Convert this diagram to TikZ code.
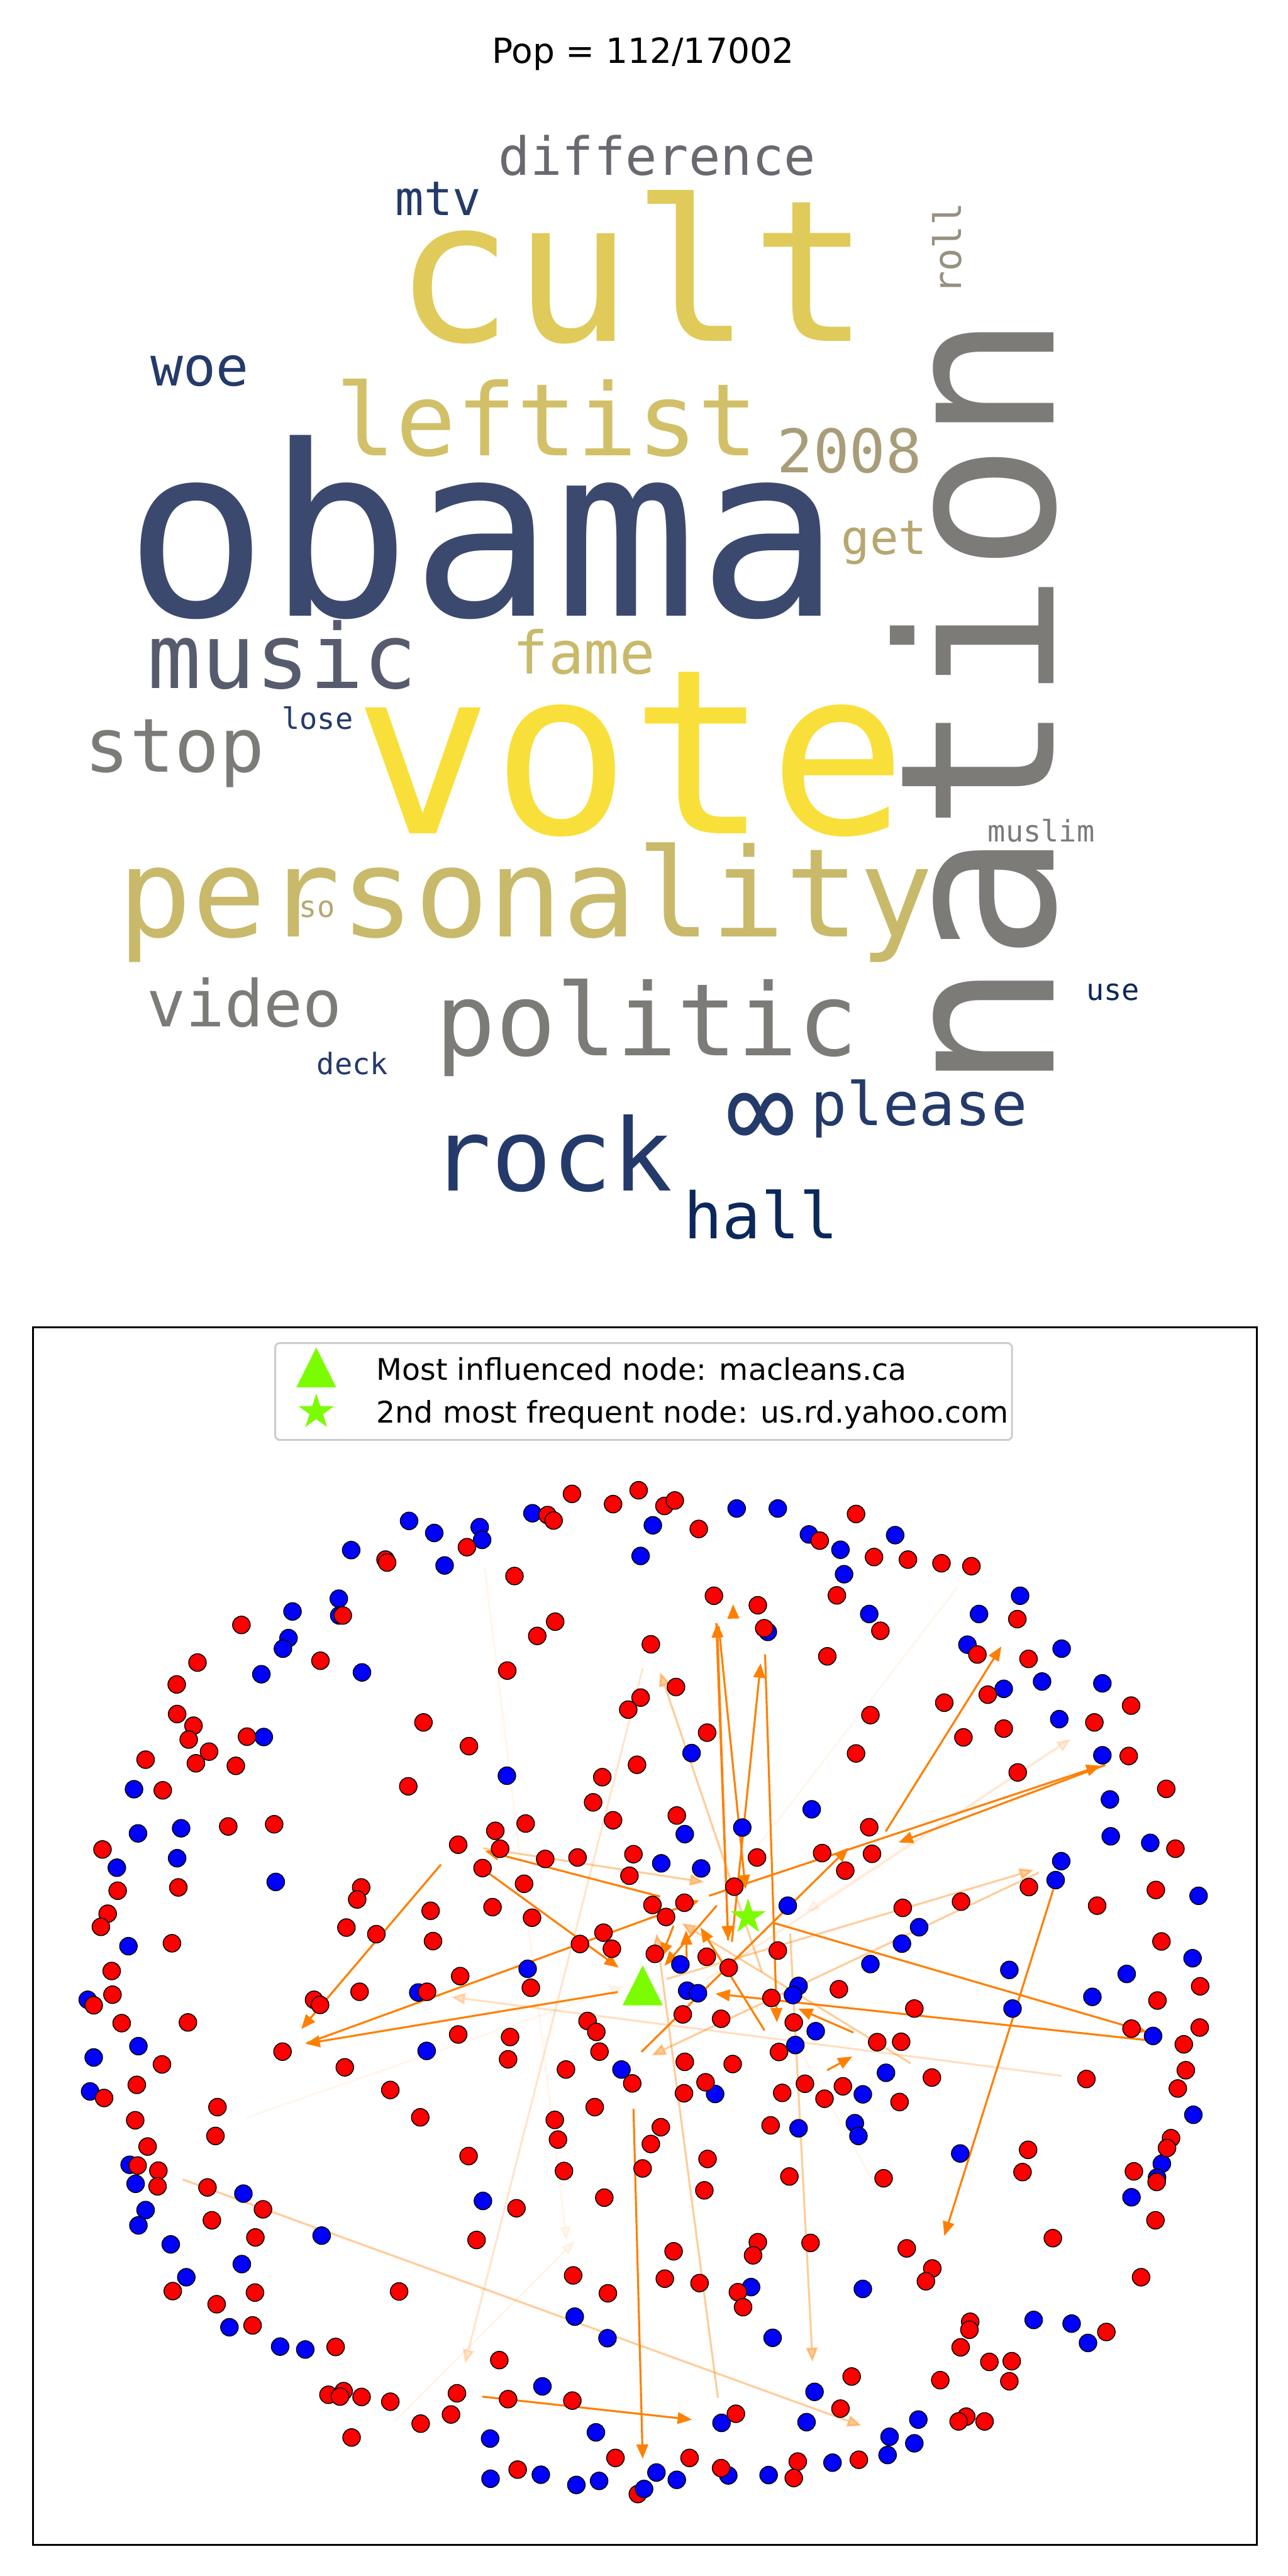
\documentclass[tikz,border=0pt]{standalone}
\usepackage{fontspec}
\setmainfont{DejaVu Sans}
\newfontfamily\cloudfont{DejaVu Sans Mono}
\usetikzlibrary{arrows.meta,shapes.geometric}
\tikzset{every picture/.style={line width=0.75pt}}
\newcommand{\wordsize}[1]{\fontsize{#1}{#1}\selectfont}

% 颜色
\definecolor{edgeorange}{RGB}{255,127,0}
\definecolor{nodegreen}{RGB}{124,252,0}
\definecolor{legendgray}{RGB}{204,204,204}
\definecolor{cvyellow}{RGB}{249,223,58}
\definecolor{cvgold}{RGB}{224,202,90}
\definecolor{cvkhaki}{RGB}{210,192,105}
\definecolor{cvsand}{RGB}{201,185,106}
\definecolor{cvolive}{RGB}{168,157,120}
\definecolor{cvtan}{RGB}{182,167,112}
\definecolor{cvtaupe}{RGB}{150,145,128}
\definecolor{cvgray}{RGB}{124,123,120}
\definecolor{cvslate}{RGB}{104,105,113}
\definecolor{cvsteel}{RGB}{87,91,110}
\definecolor{cvnavy}{RGB}{59,73,111}
\definecolor{cvblue}{RGB}{36,58,106}
\definecolor{cvink}{RGB}{12,40,90}

\tikzset{
  rdot/.style={circle, draw=black, line width=0.4pt, fill=red, minimum size=7.6pt, inner sep=0pt},
  bdot/.style={rdot, fill=blue},
  link/.style={draw=edgeorange, line width=0.85pt, -{Triangle[length=6.2pt,width=5pt]}},
  linkhalf/.style={link, opacity=0.4},
  linkfaint/.style={link, opacity=0.07},
  cloudword/.style={inner sep=0pt, anchor=base},
  hubstar/.style={star, star points=5, star point ratio=2.618, fill=nodegreen, minimum size=16pt, inner sep=0pt},
}

\begin{document}
\begin{tikzpicture}[x=0.025cm, y=-0.025cm]
    \useasboundingbox (0,0) rectangle (784,1568);

    % 标题
    \node[cloudword, font=\wordsize{15}] (title) at (391.3,38.5) {Pop = 112/17002};

    % 词云
    \node[cloudword, text=cvslate, font=\cloudfont\wordsize{22.8}] (w-difference) at (400,106.5) {difference};
    \node[cloudword, text=cvblue, font=\cloudfont\wordsize{20.6}] (w-mtv) at (266.8,131) {mtv};
    \node[cloudword, text=cvgold, font=\cloudfont\wordsize{85.4}] (w-cult) at (385,207.5) {cult};
    \node[cloudword, text=cvtaupe, font=\cloudfont\wordsize{16.4}, rotate=90] (w-roll) at (585,151.3) {roll};
    \node[cloudword, text=cvblue, font=\cloudfont\wordsize{23.5}] (w-woe) at (121.5,235) {woe};
    \node[cloudword, text=cvkhaki, font=\cloudfont\wordsize{43.4}] (w-leftist) at (333,277.5) {leftist};
    \node[cloudword, text=cvolive, font=\cloudfont\wordsize{26}] (w-2008) at (517,287.5) {2008};
    \node[cloudword, text=cvgray, font=\cloudfont\wordsize{93.2}, rotate=90] (w-nation) at (641.5,427.5) {nation};
    \node[cloudword, text=cvtan, font=\cloudfont\wordsize{20.6}] (w-get) at (538.3,337.5) {get};
    \node[cloudword, text=cvnavy, font=\cloudfont\wordsize{103}] (w-obama) at (293.8,375) {obama};
    \node[cloudword, text=cvsteel, font=\cloudfont\wordsize{38.8}] (w-music) at (172,419) {music};
    \node[cloudword, text=cvsand, font=\cloudfont\wordsize{25.5}] (w-fame) at (355.5,410) {fame};
    \node[cloudword, text=cvgray, font=\cloudfont\wordsize{32.3}] (w-stop) at (106.3,470) {stop};
    \node[cloudword, text=cvblue, font=\cloudfont\wordsize{12.8}] (w-lose) at (193.3,444) {lose};
    \node[cloudword, text=cvyellow, font=\cloudfont\wordsize{99.6}] (w-vote) at (383.8,507.5) {vote};
    \node[cloudword, text=cvgray, font=\cloudfont\wordsize{12.8}] (w-muslim) at (633.8,512.5) {muslim};
    \node[cloudword, text=cvsand, font=\cloudfont\wordsize{53.3}] (w-personality) at (320,570) {personality};
    \node[cloudword, text=cvtan, font=\cloudfont\wordsize{12.8}] (w-so) at (193,558.5) {so};
    \node[cloudword, text=cvgray, font=\cloudfont\wordsize{28}] (w-video) at (148.8,625) {video};
    \node[cloudword, text=cvgray, font=\cloudfont\wordsize{43.4}] (w-politic) at (393.8,642.5) {politic};
    \node[cloudword, text=cvink, font=\cloudfont\wordsize{12.8}] (w-use) at (677.5,609) {use};
    \node[cloudword, text=cvblue, font=\cloudfont\wordsize{12.8}] (w-deck) at (214.5,654) {deck};
    \node[cloudword, text=cvblue, font=\cloudfont\wordsize{25.9}] (w-please) at (559.5,685) {please};
    \node[inner sep=0pt, text=cvblue, font=\cloudfont\wordsize{50}] (w-inf) at (463.3,682.5) {∞};
    \node[cloudword, text=cvblue, font=\cloudfont\wordsize{43.4}] (w-rock) at (335.8,725) {rock};
    \node[cloudword, text=cvink, font=\cloudfont\wordsize{27.7}] (w-hall) at (463.3,754) {hall};

    % 网络图边框
    \draw[line width=0.8pt] (20,808) rectangle (765,1549);

    % 图例
    \draw[legendgray, line width=0.8pt, rounded corners=2pt, fill=white] (167.5,817.5) rectangle (616,876.5);
    \coordinate (legtri) at (192.5,832.3);
    \fill[nodegreen] (legtri) ++(0,-12.1) -- ++(-12.1,24.2) -- ++(24.2,0) -- cycle;
    \node[hubstar] (legstar) at (192.5,859.5) {};
    \node[anchor=base west, font=\wordsize{12.9}] (leg1) at (224,840) {Most influenced node: macleans.ca};
    \node[anchor=base west, font=\wordsize{12.9}] (leg2) at (224,866) {2nd most frequent node: us.rd.yahoo.com};

    % 淡色的边
    \draw[linkfaint] (582.5,966.5) -- (440,1151.5);
    \draw[linkfaint] (295,954) -- (345,1364);
    \draw[linkfaint] (150,1289) -- (380,1209);
    \draw[linkfaint] (650,1059) -- (490,1164);
    \draw[linkfaint] (535,1334) -- (465,1209);
    \draw[linkfaint] (240,1474) -- (350,1364);
    \draw[link, opacity=0.15] (430,1205) -- (652,1058.5);
    \draw[link, opacity=0.2] (391.2,1015.5) -- (283,1438.8);
    \draw[link, opacity=0.25] (646,1263.5) -- (274.5,1215.5);

    % 半透明的边
    \draw[linkhalf] (111.2,1326.6) -- (524.5,1476.6);
    \draw[linkhalf] (481,1177) -- (494.6,1437.7);
    \draw[linkhalf] (437,1459.5) -- (399.6,1176.8);
    \draw[linkhalf] (463.8,1200.4) -- (401.8,1017.8);
    \draw[linkhalf] (294,1125) -- (428.6,1145.6);
    \draw[linkhalf] (405.7,1204.6) -- (629.2,1138.2);
    \draw[linkhalf] (632.3,1139.8) -- (396.6,1251.1);
    \draw[linkhalf] (554.4,1256) -- (414.9,1170.6);

    % 主要的边
    \draw[link] (268.4,1134.9) -- (183.4,1235);
    \draw[link] (401.8,1154.4) -- (295.2,1126.6);
    \draw[link] (294,1137.7) -- (376.6,1197.7);
    \draw[link] (376,1212.5) -- (186,1244);
    \draw[link] (186.6,1243.7) -- (425.6,1156.7);
    \draw[link] (431.7,1153.9) -- (670,1074.8);
    \draw[link] (672.8,1074.3) -- (547,1121.5);
    \draw[link] (539.1,1114.8) -- (609.5,1002.2);
    \draw[link] (641.1,1150.2) -- (574.8,1361);
    \draw[link] (471.4,1170.6) -- (698,1236.8);
    \draw[link] (698,1241.8) -- (435.5,1213.6);
    \draw[link] (436,988) -- (443.2,1181);
    \draw[link] (443.2,1181) -- (436.5,988);
    \draw[link] (437.5,990) -- (453.8,1150);
    \draw[link] (465.7,1007) -- (472.9,1231);
    \draw[link] (445.5,1182) -- (463,1012.5);
    \draw[link] (446.4,984.5) -- (446.2,976.5);
    \draw[link] (410,1172.2) -- (402.5,1191.3);
    \draw[link] (436.3,1159.9) -- (404.5,1196.5);
    \draw[link] (418,1192) -- (417.6,1175);
    \draw[link] (465.3,1235.8) -- (426.4,1173.3);
    \draw[link] (519.5,1237.2) -- (485.9,1222.6);
    \draw[link] (503.5,1260.1) -- (518.8,1251.8);
    \draw[link] (390.4,1249) -- (516.5,1124.7);
    \draw[link] (293.5,1458.8) -- (421.2,1472.8);
    \draw[link] (385.6,1283.7) -- (391.2,1496.6);

    % 节点：左上
    \begin{scope}[shift={(21.8,871.1)}, xscale=0.243, yscale=0.2222]
        \foreach \x/\y [count=\i] in {1244/225,1515/342,935/246,998/279,1112/263,1118/298,790/326,1024/368,759/459,760/505,643/494,633/567,619/596,565/666,817/661,571/838,1180/944,246/981,256/1102,364/1088,203/1196,354/1170,601/1235,232/1411,1232/1473}
            \node[bdot] (b1-\i) at (\x,\y) {};
        \foreach \x/\y [count=\i] in {1343/172,1446/200,1510/162,1282/230,1297/245,1080/318,876/352,880/360,1199/397,769/505,515/531,713/629,1301/522,1256/561,1181/656,405/634,353/694,354/775,395/807,383/845,529/837,434/878,401/910,275/900,501/917,971/798,1085/863,933/973,1515/730,1484/763,1506/914,1419/948,1396/1017,1446/1066,318/984,482/1083,597/1077,1058/1133,1151/1095,1227/1075,1163/1144,1276/1172,1357/1168,1497/1159,1487/1218,167/1146,205/1259,357/1250,815/1250,805/1283,1119/1197,1223/1240,1144/1304,1243/1333,989/1314,180/1322,163/1358,778/1360,853/1378,995/1397,1422/1374,1443/1418,1363/1405,341/1403,190/1479,1063/1493}
            \node[rdot] (r1-\i) at (\x,\y) {};
    \end{scope}

    % 节点：右上
    \begin{scope}[shift={(381.1,871.1)}, xscale=0.243, yscale=0.2222]
        \foreach \x/\y [count=\i] in {67/258,277/212,380/212,458/283,537/325,674/285,546/392,609/501,355/550,884/501,987/451,855/585,946/706,1042/686,1091/596,1193/691,1085/789,1193/888,164/882,1212/1009,1214/1110,1313/1128,465/1036,291/1086,147/1104,88/1184,188/1198,1090/1178,1076/1230,405/1300,1434/1273,734/1359,691/1404,136/1461,612/1460,960/1476,1254/1487,1419/1444}
            \node[bdot] (b2-\i) at (\x,\y) {};
        \foreach \x/\y [count=\i] in {96/205,122/190,182/268,576/227,485/300,621/345,706/352,790/362,865/370,220/451,330/477,346/540,528/450,637/547,62/584,504/617,125/701,612/778,797/744,906/722,880/612,980/515,1008/624,1265/752,1173/798,946/815,845/839,203/826,576/883,981/935,1259/890,1353/980,127/1053,609/1085,328/1168,491/1156,616/1158,549/1204,1376/1144,271/1248,66/1298,146/1292,100/1331,693/1306,839/1289,1009/1249,1180/1300,1327/1257,1341/1398,72/1432,202/1440,257/1470,380/1423}
            \node[rdot] (r2-\i) at (\x,\y) {};
    \end{scope}

    % 节点：左下
    \begin{scope}[shift={(21.8,1197.7)}, xscale=0.243, yscale=0.2222]
        \foreach \x/\y [count=\i] in {130/88,958/68,257/215,145/246,979/228,1467/279,136/339,235/540,250/592,275/664,257/706,338/758,520/619,716/734,516/812,377/848,1120/639,1350/956,1432/1015,485/985,612/1038,675/1046,1269/1147,1403/1273,1138/1290,1139/1400,1265/1389,1354/1417,1411/1406}
            \node[bdot] (b3-\i) at (\x,\y) {};
        \foreach \x/\y [count=\i] in {192/74,145/103,697/88,712/102,811/66,980/66,1240/55,215/152,381/150,618/230,774/273,1058/183,1188/190,1183/251,1328/279,1382/146,1404/176,1412/230,1494/317,316/265,253/321,171/357,888/335,963/410,1400/382,1300/417,1308/471,1520/550,455/382,249/418,450/461,280/490,1084/516,1323/557,255/542,307/556,305/599,430/602,569/662,441/692,550/739,1424/630,1204/659,1104/746,1346/843,1433/892,910/887,343/886,453/922,549/890,543/980,751/1039,1161/1075,733/1170,771/1160,762/1175,816/1176,888/1189,1055/1166,1040/1224,964/1249,1183/1182,1344/1186,791/1287,1207/1375,1452/1343,1508/1442}
            \node[rdot] (r3-\i) at (\x,\y) {};
    \end{scope}

    % 节点：右下
    \begin{scope}[shift={(381.1,1197.7)}, xscale=0.243, yscale=0.2222]
        \foreach \x/\y [count=\i] in {153/63,180/70,432/50,418/75,968/112,1168/80,1320/187,475/174,424/212,223/346,593/347,651/288,432/440,573/426,582/461,837/509,1421/403,1342/537,1330/575,1266/629,313/875,593/880,367/1014,1021/965,1116/975,1157/1028,472/1162,239/1247,452/1245,732/1238,660/1285,722/1303,655/1335,76/1383,127/1403,256/1391,357/1390,517/1356,45/1428}
            \node[bdot] (b4-\i) at (\x,\y) {};
        \foreach \x/\y [count=\i] in {364/83,533/59,722/112,142/128,238/140,420/150,629/204,689/203,383/231,147/258,267/264,199/314,145/344,391/343,448/318,497/359,543/325,766/301,685/368,1153/305,1266/167,1331/90,1438/51,1437/164,1397/210,1402/281,1382/331,87/437,62/483,362/432,204/524,196/610,409/572,645/577,1007/499,993/560,1365/467,1355/494,1272/558,1329/587,1326/692,1069/741,119/777,97/852,184/864,330/752,318/788,462/754,703/769,767/824,751/859,280/889,293/930,1290/848,862/970,860/992,838/1040,910/1080,966/1078,960/1133,787/1130,1203/998,565/1120,537/1208,275/1222,852/1230,833/1243,898/1243,159/1343,238/1371,430/1353,420/1398,583/1348}
            \node[rdot] (r4-\i) at (\x,\y) {};
    \end{scope}

    % 最受影响的节点与第二频繁的节点
    \coordinate (macleans) at (391.2,1208.5);
    \fill[nodegreen] (macleans) ++(0,-12.2) -- ++(-12.2,24.3) -- ++(24.4,0) -- cycle;
    \node[hubstar] (yahoo) at (455.4,1166.8) {};
\end{tikzpicture}
\end{document}
